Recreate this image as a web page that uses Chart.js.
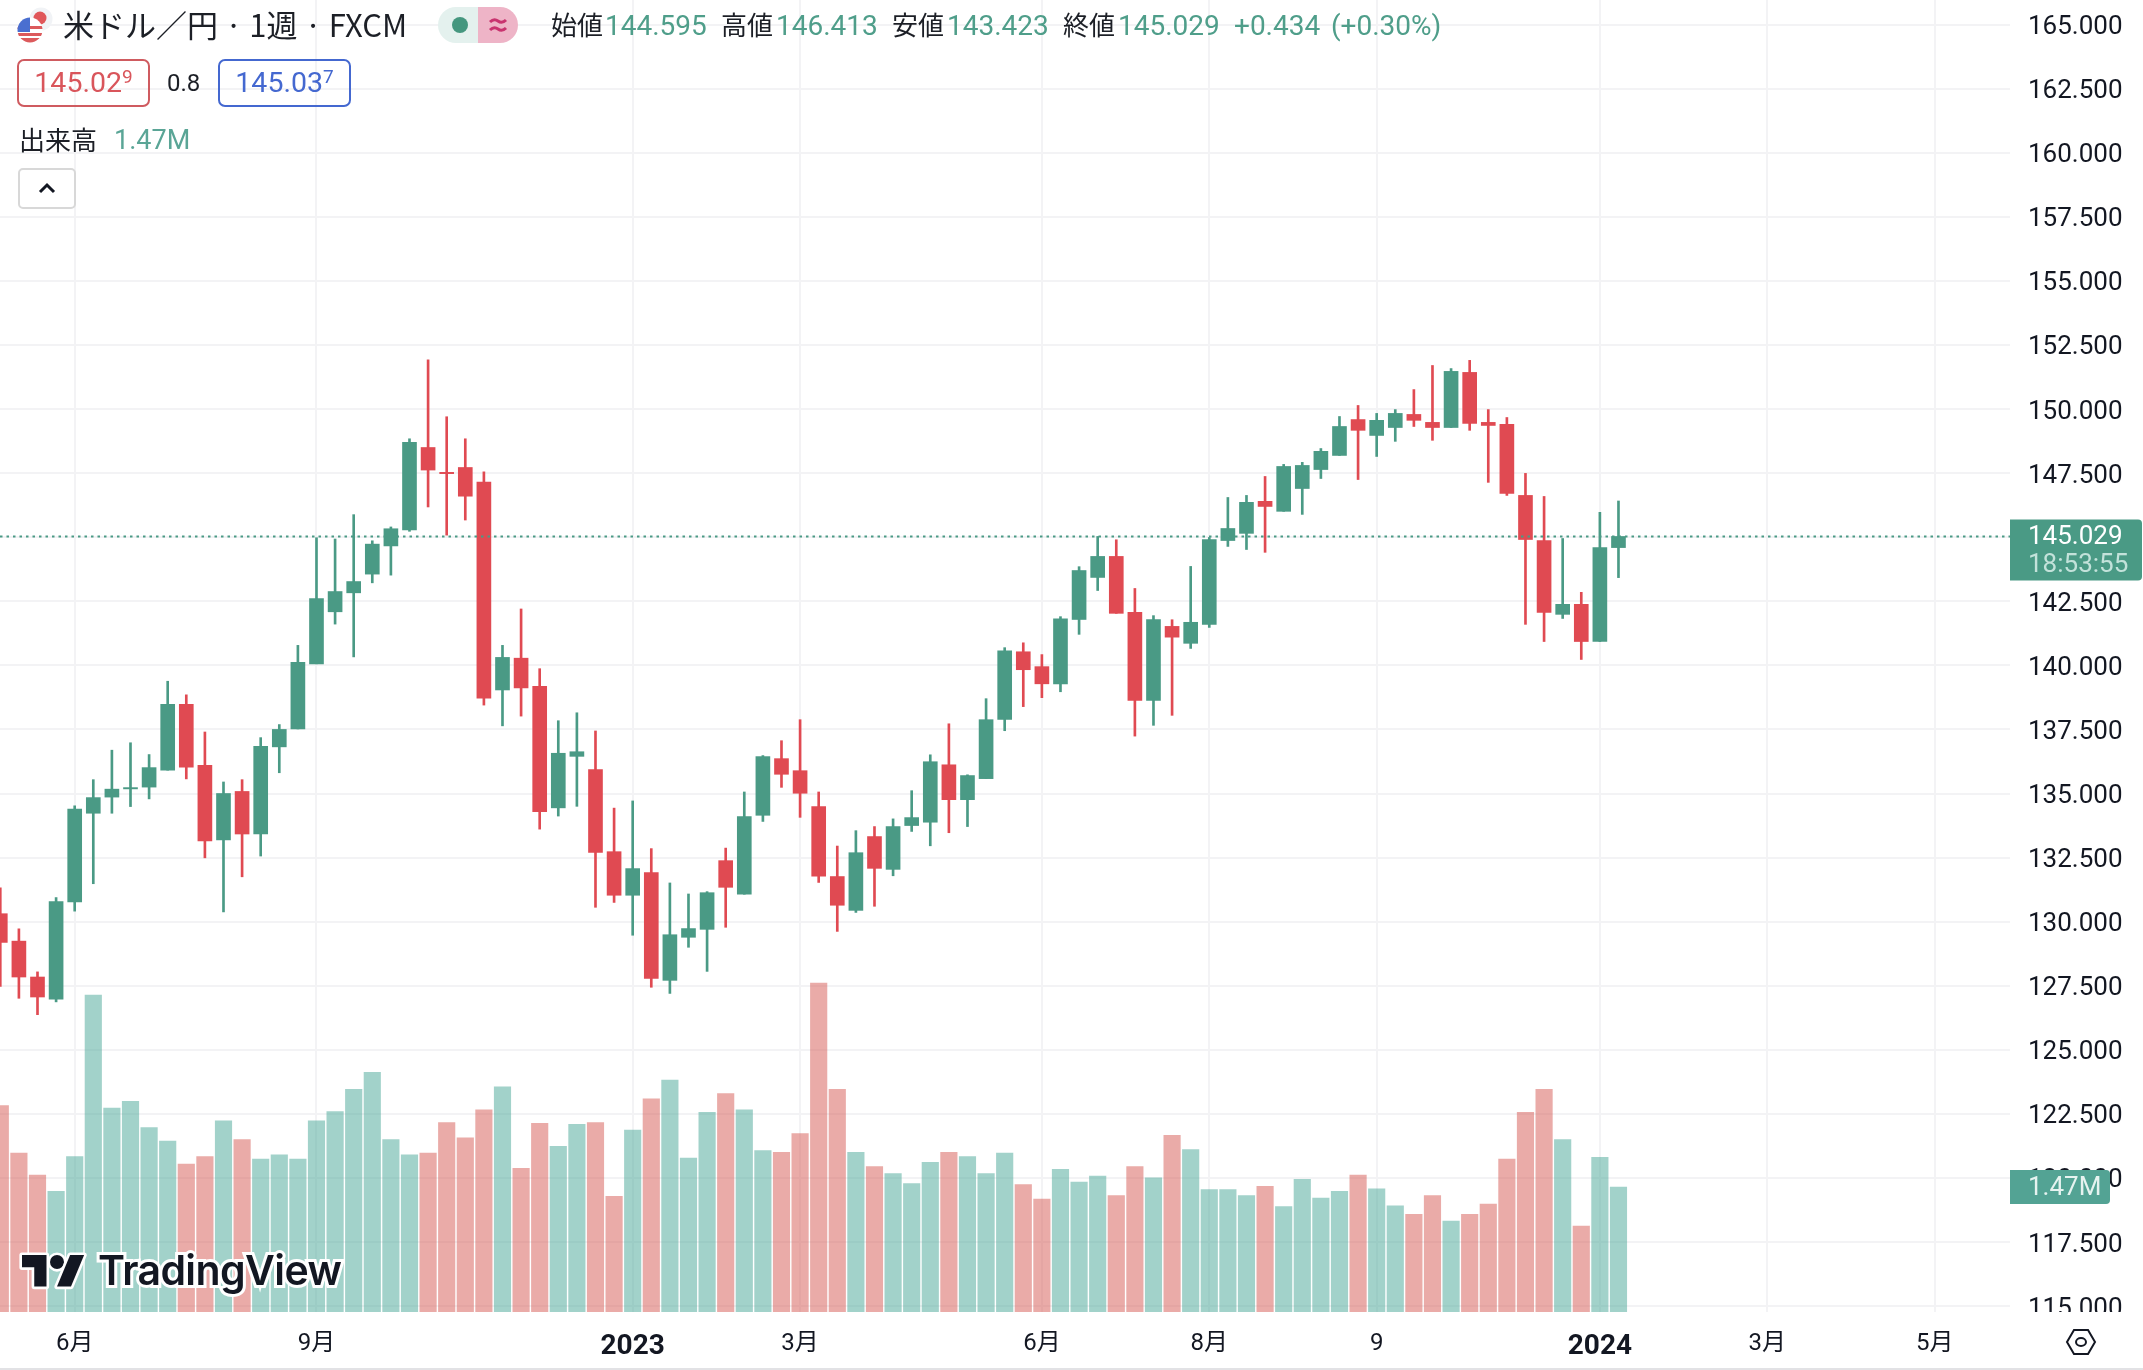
<!DOCTYPE html>
<html lang="ja">
<head>
<meta charset="utf-8">
<title>米ドル／円 1週 FXCM</title>
<script src="https://cdn.jsdelivr.net/npm/chart.js@4/dist/chart.umd.js"></script>
<style>
  html, body { margin: 0; padding: 0; background: #fff; overflow: hidden; }
  #wrap { position: relative; width: 2143px; height: 1370px; font-family: "Roboto", "Noto Sans CJK JP", sans-serif; color: #1c1f26; }
  #myChart { position: absolute; left: 0; top: 0; }
  .t { position: absolute; white-space: nowrap; line-height: 1; }
  .jp { font-family: "Noto Sans CJK JP", sans-serif; }
  .up { color: #4f9e8a; font-size: 28px; top: 12px; }
  .box { position: absolute; box-sizing: border-box; border: 2px solid; border-radius: 7px; height: 48px; width: 133px; top: 59px; text-align: center; font-size: 28.5px; line-height: 44px; }
  .box sup { font-size: 19px; line-height: 0; vertical-align: 9px; }
</style>
</head>
<body>
<div id="wrap">
  <canvas id="myChart" width="2143" height="1370"></canvas>

  <svg style="position:absolute;left:14px;top:4px" width="44" height="44" viewBox="0 0 44 44">
    <circle cx="27" cy="15" r="11.5" fill="#f1f3f6"/>
    <circle cx="26" cy="14" r="6.5" fill="#e0575a"/>
    <clipPath id="flag"><circle cx="16" cy="26" r="12.5"/></clipPath>
    <g clip-path="url(#flag)">
      <rect x="0" y="12" width="30" height="28" fill="#fff"/>
      <rect x="0" y="22" width="30" height="3" fill="#dc5a5c"/>
      <rect x="0" y="29" width="30" height="3" fill="#dc5a5c"/>
      <rect x="0" y="34" width="30" height="6" fill="#dc5a5c"/>
      <rect x="0" y="12" width="16" height="16" fill="#4a6fd0"/>
    </g>
  </svg>
  <div class="t jp" style="left:63px;top:8px;font-size:31px;">米ドル／円 · 1週 · FXCM</div>

  <svg style="position:absolute;left:438px;top:7px" width="80" height="36" viewBox="0 0 80 36">
    <path d="M18 0H40V36H18A18 18 0 0 1 18 0Z" fill="#e4f1ee"/>
    <path d="M40 0H62A18 18 0 0 1 62 36H40Z" fill="#eeb4c7"/>
    <circle cx="22" cy="18" r="8" fill="#45977f"/>
    <path d="M52 15q4-4 8 -1t8-1M52 23q4-4 8-1t8-1" fill="none" stroke="#c9336f" stroke-width="3"/>
  </svg>

  <div class="t jp" style="left:551px;top:11px;font-size:26px;">始値</div>
  <div class="t up" style="left:605px;">144.595</div>
  <div class="t jp" style="left:721px;top:11px;font-size:26px;">高値</div>
  <div class="t up" style="left:776px;">146.413</div>
  <div class="t jp" style="left:892px;top:11px;font-size:26px;">安値</div>
  <div class="t up" style="left:947px;">143.423</div>
  <div class="t jp" style="left:1063px;top:11px;font-size:26px;">終値</div>
  <div class="t up" style="left:1118px;">145.029</div>
  <div class="t up" style="left:1234px;">+0.434</div>
  <div class="t up" style="left:1331px;">(+0.30%)</div>

  <div class="box" style="left:17px;color:#d9555b;border-color:#cf5b60;">145.02<sup>9</sup></div>
  <div class="t" style="left:167px;top:71px;font-size:24px;">0.8</div>
  <div class="box" style="left:218px;color:#4468d0;border-color:#4468d0;">145.03<sup>7</sup></div>

  <div class="t jp" style="left:19px;top:126px;font-size:26px;">出来高</div>
  <div class="t" style="left:114px;top:127px;font-size:27px;color:#5aa596;">1.47M</div>
  <svg style="position:absolute;left:18px;top:168px" width="58" height="41" viewBox="0 0 58 41">
    <rect x="1" y="1" width="56" height="39" rx="4" fill="#fff" stroke="#d8d8d8" stroke-width="2"/>
    <path d="M22 24l7-7 7 7" fill="none" stroke="#131722" stroke-width="3"/>
  </svg>

  <svg style="position:absolute;left:22px;top:1248px;overflow:visible" width="63" height="35" viewBox="0 0 36 20">
    <g fill="#131722" stroke="#fff" stroke-width="3" paint-order="stroke" stroke-linejoin="round">
      <path d="M14 22H7V11H0V4h14v18z"/>
      <circle cx="20" cy="8" r="4"/>
      <path d="M28 22h-8l7.5-18h8L28 22z"/>
    </g>
  </svg>
  <div class="t" style="left:98px;top:1250px;font-size:41px;font-family:Inter,sans-serif;font-weight:600;letter-spacing:-0.6px;color:#131722;-webkit-text-stroke:6px #fff;paint-order:stroke fill;">TradingView</div>

  <svg style="position:absolute;left:2065px;top:1328px" width="32" height="28" viewBox="0 0 32 28">
    <path d="M9 2H23L30 14L23 26H9L2 14Z" fill="none" stroke="#131722" stroke-width="2"/>
    <ellipse cx="16" cy="14" rx="5" ry="4" fill="none" stroke="#131722" stroke-width="2"/>
  </svg>
</div>

<script>
// weekly candles (index 0 = first visible week)
const opens = [130.31,129.24,127.84,126.98,130.77,134.23,134.86,135.18,135.25,135.91,138.48,136.10,133.19,135.08,133.42,136.82,137.52,140.06,142.09,142.83,143.56,144.66,145.28,148.50,147.53,147.72,147.15,139.04,140.28,139.18,134.44,136.45,135.93,132.73,131.03,131.91,127.71,129.39,129.70,132.38,131.07,134.15,136.36,135.89,134.49,131.76,130.44,133.32,132.04,133.75,133.88,136.12,134.76,135.58,137.89,140.53,139.95,139.28,141.79,143.43,144.25,142.07,138.63,141.52,140.86,141.60,144.87,145.15,146.40,146.01,146.90,147.64,148.19,149.59,148.97,149.28,149.79,149.48,149.28,151.43,149.48,149.40,146.63,144.87,141.99,142.38,140.93,144.595];
const highs = [131.32,129.72,128.04,130.94,134.52,135.54,136.69,136.98,136.52,139.38,138.85,137.40,135.45,135.54,137.18,137.69,140.78,144.98,144.93,145.88,144.86,145.40,148.84,151.92,149.70,148.84,147.55,140.78,142.20,139.87,137.84,138.15,137.44,134.43,134.71,132.85,131.51,131.08,131.17,132.87,135.06,136.48,137.06,137.88,135.06,132.95,133.55,133.71,134.01,135.11,136.51,137.72,135.73,138.70,140.69,140.88,140.42,141.90,143.85,145.03,144.90,143.00,141.94,141.78,143.86,144.99,146.55,146.63,147.37,147.84,147.92,148.46,149.71,150.14,149.83,149.98,150.76,151.70,151.58,151.90,149.98,149.67,147.49,146.59,144.95,142.85,145.97,146.413];
const lows = [127.47,127.01,126.37,126.87,130.41,131.48,134.23,134.49,134.79,135.91,135.57,132.49,130.38,131.75,132.56,135.81,137.52,140.06,141.61,140.33,143.22,143.52,145.23,146.18,145.08,145.67,138.45,137.64,138.02,133.61,134.12,134.50,130.56,130.75,129.47,127.44,127.20,129.00,128.06,129.78,131.07,133.91,135.24,134.07,131.53,129.62,130.36,130.60,131.79,133.52,132.96,133.47,133.71,135.58,137.45,138.39,138.74,138.97,141.21,142.92,142.03,137.24,137.66,138.05,140.66,141.48,144.64,144.52,144.41,146.01,145.89,147.29,148.19,147.25,148.15,148.74,149.32,148.78,149.28,149.17,147.14,146.63,141.60,140.93,141.83,140.23,140.93,143.423];
const closes = [129.19,127.84,127.06,130.78,134.39,134.84,135.17,135.23,136.01,138.48,136.03,133.15,135.00,133.42,136.84,137.50,140.12,142.61,142.88,143.27,144.73,145.33,148.70,147.62,147.48,146.60,138.72,140.31,139.12,134.29,136.57,136.63,132.70,131.03,132.07,127.79,129.49,129.73,131.13,131.34,134.10,136.44,135.75,135.01,131.77,130.64,132.69,132.08,133.71,134.06,136.24,134.76,135.70,137.88,140.57,139.83,139.28,141.82,143.70,144.25,142.03,138.63,141.79,141.10,141.68,144.91,145.34,146.36,146.20,147.76,147.80,148.35,149.32,149.17,149.56,149.83,149.56,149.28,151.47,149.44,149.36,146.71,144.91,142.07,142.38,140.93,144.595,145.029];
// volume in millions
const volumes = [2.43,1.87,1.61,1.42,1.83,3.73,2.40,2.48,2.17,2.01,1.74,1.83,2.25,2.03,1.80,1.85,1.80,2.25,2.36,2.62,2.82,2.03,1.85,1.87,2.23,2.05,2.38,2.65,1.69,2.22,1.95,2.21,2.23,1.36,2.14,2.51,2.73,1.81,2.35,2.57,2.38,1.90,1.88,2.10,3.87,2.62,1.88,1.71,1.63,1.51,1.76,1.88,1.83,1.63,1.87,1.50,1.33,1.68,1.53,1.60,1.37,1.71,1.58,2.08,1.91,1.44,1.44,1.37,1.48,1.24,1.56,1.34,1.42,1.61,1.45,1.25,1.15,1.37,1.07,1.15,1.27,1.80,2.35,2.62,2.03,1.01,1.82,1.47];

const timeTickIdx = [4, 17, 34, 43, 56, 65, 74, 86, 95, 104];
const timeLabels = ['6月', '9月', '2023', '3月', '6月', '8月', '9', '2024', '3月', '5月'];
const priceTicks = [115, 117.5, 120, 122.5, 125, 127.5, 130, 132.5, 135, 137.5, 140, 142.5, 145, 147.5, 150, 152.5, 155, 157.5, 160, 162.5, 165];

const lastClose = closes[closes.length - 1];
const lastVolume = volumes[volumes.length - 1];

const GREEN = '#4a9a85';
const RED = '#e04a52';
const VOL_GREEN = 'rgba(70,165,150,0.5)';
const VOL_RED = 'rgba(213,87,81,0.5)';
const GRID = '#f3f3f5';
const TEXT = '#131722';
const AXIS_FONT = '"Roboto", "Noto Sans CJK JP", sans-serif';

const xMin = -0.016;
const xMax = 108.05;

let bodyData = [], wickData = [], volData = [], candleColors = [], volColors = [];
for (let i = 0; i < opens.length; i++) {
  bodyData.push({ x: i, y: [opens[i], closes[i]] });
  wickData.push({ x: i, y: [lows[i], highs[i]] });
  volData.push({ x: i, y: volumes[i] });
  let up = closes[i] >= opens[i];
  candleColors.push(up ? GREEN : RED);
  volColors.push(up ? VOL_GREEN : VOL_RED);
}

// last price / volume tags on the price axis, and the cut at the bottom of the axis
const axisTags = {
  id: 'axisTags',
  afterDraw(chart) {
    const c = chart.ctx;
    const area = chart.chartArea;
    c.save();
    c.fillStyle = '#fff';
    c.fillRect(area.right, area.bottom, chart.width - area.right, chart.height - area.bottom);
    c.fillStyle = '#e2e2e5';
    c.fillRect(0, chart.height - 2, chart.width, 2);

    c.font = '26px ' + AXIS_FONT;
    c.textBaseline = 'middle';
    c.textAlign = 'left';

    let py = chart.scales.y.getPixelForValue(lastClose);
    c.fillStyle = GREEN;
    c.beginPath();
    c.roundRect(area.right, py - 17, chart.width - area.right - 1, 61, [0, 4, 4, 0]);
    c.fill();
    c.fillStyle = '#fff';
    c.fillText(lastClose.toFixed(3), 2028, py + 1);
    c.fillStyle = '#c3e2da';
    c.fillText('18:53:55', 2028, py + 29);

    let vy = chart.scales.vol.getPixelForValue(lastVolume);
    c.fillStyle = '#53a394';
    c.beginPath();
    c.roundRect(area.right, vy - 17, 100, 34, [0, 4, 4, 0]);
    c.fill();
    c.fillStyle = '#e6f3f0';
    c.fillText(lastVolume.toFixed(2) + 'M', 2028, vy + 1);
    c.restore();
  }
};

const ctx = document.getElementById('myChart');
new Chart(ctx, {
  data: {
    datasets: [{
      type: 'line',
      data: [{ x: xMin, y: lastClose }, { x: xMax, y: lastClose }],
      yAxisID: 'y',
      borderColor: GREEN,
      borderWidth: 2,
      borderDash: [2.5, 4],
      pointRadius: 0,
      order: 0
    }, {
      type: 'bar',
      data: bodyData,
      yAxisID: 'y',
      backgroundColor: candleColors,
      barThickness: 14,
      grouped: false,
      borderSkipped: false,
      order: 1
    }, {
      type: 'bar',
      data: wickData,
      yAxisID: 'y',
      backgroundColor: candleColors,
      barThickness: 2,
      grouped: false,
      borderSkipped: false,
      order: 2
    }, {
      type: 'bar',
      data: volData,
      yAxisID: 'vol',
      backgroundColor: volColors,
      barThickness: 16.5,
      grouped: false,
      order: 3
    }]
  },
  options: {
    responsive: false,
    animation: false,
    events: [],
    layout: { padding: 0 },
    plugins: { legend: { display: false }, title: { display: false }, tooltip: { enabled: false } },
    scales: {
      x: {
        type: 'linear',
        offset: false,
        min: xMin,
        max: xMax,
        border: { display: false },
        grid: { color: GRID, lineWidth: 2, drawTicks: false, offset: false },
        afterBuildTicks(scale) {
          scale.ticks = timeTickIdx.map(v => ({ value: v }));
        },
        afterFit(scale) {
          scale.height = 58;
          scale.paddingLeft = 0;
          scale.paddingRight = 0;
        },
        ticks: {
          autoSkip: false,
          maxRotation: 0,
          padding: 18,
          color: TEXT,
          font: ctx => {
            let bold = ctx.tick && timeLabels[timeTickIdx.indexOf(ctx.tick.value)].length == 4;
            return { family: AXIS_FONT, size: bold ? 28 : 24, weight: bold ? 'bold' : 'normal' };
          },
          callback: v => timeLabels[timeTickIdx.indexOf(v)]
        }
      },
      y: {
        position: 'right',
        min: 114.77,
        max: 165.96,
        border: { display: false },
        grid: { color: GRID, lineWidth: 2, drawTicks: false },
        afterBuildTicks(scale) {
          scale.ticks = priceTicks.map(v => ({ value: v }));
        },
        afterFit(scale) {
          scale.width = 133;
          scale.paddingTop = 0;
          scale.paddingBottom = 0;
        },
        ticks: {
          autoSkip: false,
          padding: 18,
          labelOffset: 3,
          color: TEXT,
          font: { family: AXIS_FONT, size: 26 },
          callback: v => v.toFixed(3)
        }
      },
      vol: {
        display: false,
        position: 'left',
        min: 0,
        max: 15.44,
        grid: { display: false }
      }
    }
  },
  plugins: [axisTags]
});
</script>
</body>
</html>
